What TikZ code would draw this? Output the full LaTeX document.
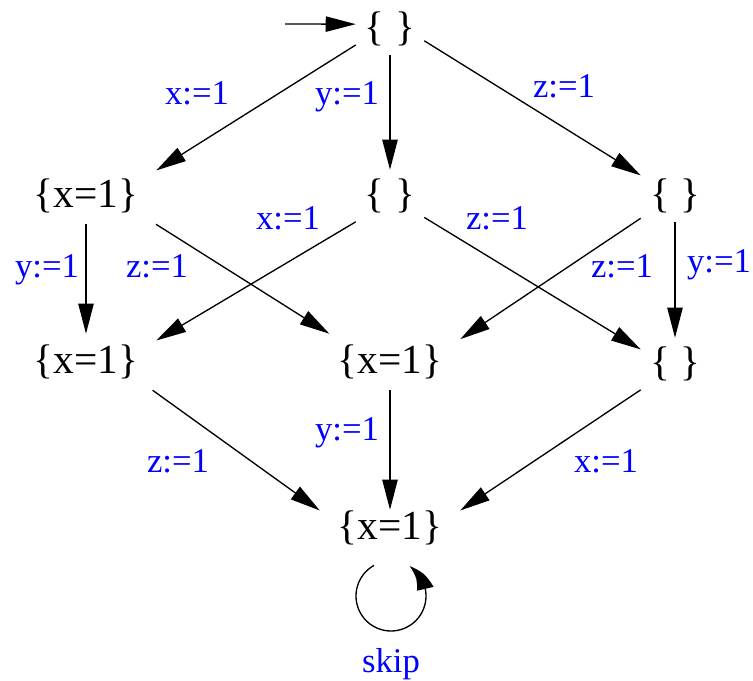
\documentclass[tikz,border=0pt]{standalone}
\usepackage{fontspec}
\setmainfont{Liberation Serif}
\usetikzlibrary{arrows.meta,bending}
\begin{document}
\begin{tikzpicture}[x=0.75pt,y=0.75pt,
  st/.style={rectangle,inner sep=0pt,minimum height=42pt,font=\fontsize{31}{36}\selectfont},
  stx/.style={st,minimum width=105pt},
  ste/.style={st,minimum width=51pt,minimum height=39pt},
  lbl/.style={text=blue,anchor=base,inner sep=0pt,font=\fontsize{26}{30}\selectfont},
  arr/.style={line width=1pt,-{Triangle[length=22.5pt,width=11.5pt]}}]
\useasboundingbox (0,0) rectangle (753,681);
% states
\node[ste] (n0) at (390,652) {\{ \}};
\node[stx] (n1) at (86,485) {\{x=1\}};
\node[ste] (n2) at (390,485) {\{ \}};
\node[ste] (n3) at (675,485) {\{ \}};
\node[stx] (n4) at (86,319) {\{x=1\}};
\node[stx] (n5) at (390,319) {\{x=1\}};
\node[ste] (n6) at (675,317) {\{ \}};
\node[stx,minimum height=27pt] (n7) at (390,153) {\{x=1\}};
\coordinate (init) at (285,657);
\coordinate (lc) at (391,85);
% transitions
\draw[arr] (init) -- (n0.172);
\draw[arr] (n0.205) -- (n1.20);
\draw[arr] (n0.270) -- (n2.90);
\draw[arr] (n0.341) -- (n3.149);
\draw[arr] (n1.270) -- (n4.90);
\draw[arr] (n1.338) -- (n5.155);
\draw[arr] (n2.217) -- (n4.17);
\draw[arr] (n2.328) -- (n6.157);
\draw[arr] (n3.213) -- (n5.18);
\draw[arr] (n3.270) -- (n6.90);
\draw[arr] (n4.337) -- (n7.166);
\draw[arr] (n5.270) -- (n7.90);
\draw[arr] (n6.217) -- (n7.14);
\draw[line width=1pt,-{Triangle[length=21pt,width=12.5pt,bend]}]
  ([shift={(119:26.25pt)}]lc) arc[start angle=119,end angle=418,radius=26.25pt];
% labels
\node[lbl] (l01) at (197,576) {x:=1};
\node[lbl] (l02) at (347,576) {y:=1};
\node[lbl] (l03) at (564,583) {z:=1};
\node[lbl] (l14) at (47,403) {y:=1};
\node[lbl] (l15) at (157,403) {z:=1};
\node[lbl] (l24) at (288,451) {x:=1};
\node[lbl] (l26) at (497,451) {z:=1};
\node[lbl] (l35) at (622,403) {z:=1};
\node[lbl] (l36) at (719,408) {y:=1};
\node[lbl] (l47) at (178,208) {z:=1};
\node[lbl] (l57) at (347,240) {y:=1};
\node[lbl] (l67) at (606,208) {x:=1};
\node[lbl] (lskip) at (391,8) {skip};
\end{tikzpicture}
\end{document}
